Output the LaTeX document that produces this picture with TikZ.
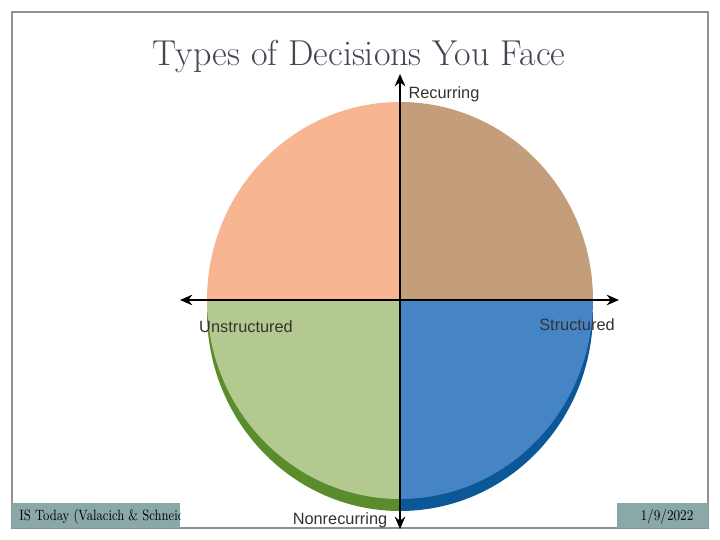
\documentclass[tikz,border=0pt]{standalone}
\usepackage{fontspec}
\usetikzlibrary{arrows.meta}
\newfontfamily\labelfont{Liberation Sans}
\definecolor{salmon}{HTML}{F8B591}
\definecolor{tan}{HTML}{C49E7B}
\definecolor{sage}{HTML}{B4C98F}
\definecolor{sagedark}{HTML}{5B8C2B}
\definecolor{sky}{HTML}{4585C6}
\definecolor{skydark}{HTML}{0B5797}
\definecolor{footfill}{HTML}{8BA8A8}
\definecolor{framegray}{HTML}{8A9494}
\definecolor{titlegray}{HTML}{424653}
\definecolor{labelgray}{HTML}{333333}
\tikzset{
    axislabel/.style={text=labelgray, font=\labelfont\fontsize{9.3}{11}\selectfont, inner sep=0pt},
    foottext/.style={inner sep=0pt, text=black, font=\fontsize{8.5}{10}\selectfont},
    axis/.style={line width=1.1pt, -{Stealth[length=7pt,width=6pt]}}
}
\begin{document}
\begin{tikzpicture}[x=0.02cm, y=0.02cm]
        \useasboundingbox (0,0) rectangle (720,540);
        \draw[framegray, line width=0.6pt] (12,12) rectangle (708,528);
        \node[text=titlegray, font=\fontsize{20.5}{24}\selectfont] at (359,483) (title) {Types of Decisions You Face};

        % shadow under the lower half
        \fill[sagedark] (400,228) -- ++(-193,0) arc[start angle=180, end angle=270, x radius=193, y radius=199] -- cycle;
        \fill[skydark]  (400,228) -- ++(193,0)  arc[start angle=0, end angle=-90, x radius=193, y radius=199] -- cycle;

        % four quadrants
        \coordinate (c) at (400,240);
        \fill[salmon] (c) -- ++(-193,0) arc[start angle=180, end angle=90, x radius=193, y radius=198] -- cycle;
        \fill[tan]    (c) -- ++(193,0)  arc[start angle=0, end angle=90, x radius=193, y radius=198] -- cycle;
        \fill[sage]   (c) -- ++(-193,0) arc[start angle=180, end angle=270, x radius=193, y radius=199] -- cycle;
        \fill[sky]    (c) -- ++(193,0)  arc[start angle=0, end angle=-90, x radius=193, y radius=199] -- cycle;

        % axes
        \coordinate (west)  at (180,240);
        \coordinate (east)  at (619,240);
        \coordinate (north) at (400,466);
        \coordinate (south) at (400,11);
        \draw[axis] (c) -- (west);
        \draw[axis] (c) -- (east);
        \draw[axis] (c) -- (north);
        \draw[axis] (c) -- (south);

        \node[axislabel] at (444,446) (rec)    {Recurring};
        \node[axislabel] at (246,213) (unstr)  {Unstructured};
        \node[axislabel] at (577,215) (str)    {Structured};
        \node[axislabel] at (340,20)  (nonrec) {Nonrecurring};

        % footer
        \fill[footfill] (12,12) rectangle (180,37);
        \begin{scope}
            \clip (12,12) rectangle (180,37);
            \node[foottext, anchor=west] at (19,23) (src) {\scalebox{0.82}[1]{IS Today (Valacich \& Schneider)}};
        \end{scope}
        \fill[footfill] (617,12) rectangle (708,37);
        \node[foottext] at (667,23) (date) {\scalebox{0.86}[1]{1/9/2022}};
    \end{tikzpicture}
\end{document}
